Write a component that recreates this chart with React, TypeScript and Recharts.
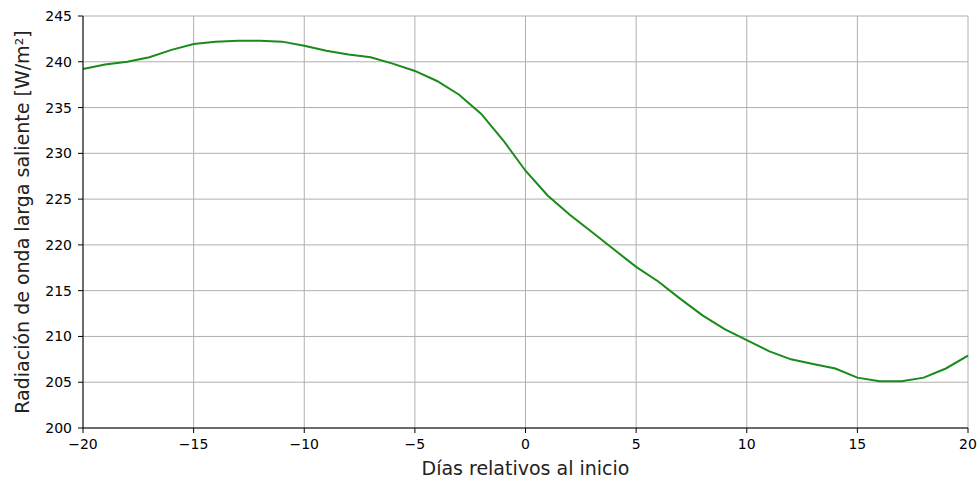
import { CartesianGrid, Label, Line, LineChart, XAxis, YAxis } from "recharts";

// days relative to onset and outgoing longwave radiation (W/m²)
const days = [
  -20, -19, -18, -17, -16, -15, -14, -13, -12, -11, -10, -9, -8, -7, -6, -5, -4, -3, -2, -1,
  0, 1, 2, 3, 4, 5, 6, 7, 8, 9, 10, 11, 12, 13, 14, 15, 16, 17, 18, 19, 20,
];
const olr = [
  239.2, 239.7, 240.0, 240.5, 241.3, 241.95, 242.2, 242.3, 242.3, 242.2, 241.75, 241.2, 240.8, 240.5, 239.8, 239.0, 237.9, 236.4, 234.3, 231.4,
  228.1, 225.4, 223.3, 221.4, 219.5, 217.6, 216.0, 214.1, 212.3, 210.8, 209.6, 208.4, 207.5, 207.0, 206.5, 205.5, 205.1, 205.1, 205.5, 206.5, 207.9,
];
const xTicks = [-20, -15, -10, -5, 0, 5, 10, 15, 20];
const yTicks = [200, 205, 210, 215, 220, 225, 230, 235, 240, 245];

const data = days.map((d, i) => ({ day: d, olr: olr[i] }));

const font = "'DejaVu Sans', sans-serif";
const minus = (v: number) => String(v).replace("-", "\u2212");

export default function App() {
  return (
    <div style={{ position: "absolute", left: 0, top: 0, width: 978, height: 486, background: "#fff", fontFamily: font }}>
      <LineChart width={978} height={486} data={data} margin={{ top: 16, right: 10, bottom: 8, left: 8 }}>
        <CartesianGrid stroke="#b0b0b0" strokeWidth={1} />
        <XAxis
          dataKey="day" type="number" domain={[-20, 20]} ticks={xTicks} tickFormatter={minus}
          height={50} stroke="#000" tickSize={5} tickMargin={6}
          tick={{ fill: "#000", fontSize: 14, fontFamily: font }}
        >
          <Label value="Días relativos al inicio" position="insideBottom" offset={3}
            style={{ fill: "#222", fontSize: 19, fontFamily: font }} />
        </XAxis>
        <XAxis xAxisId="top" orientation="top" dataKey="day" type="number" domain={[-20, 20]}
          height={0} tick={false} tickLine={false} stroke="#000" />
        <YAxis
          domain={[200, 245]} ticks={yTicks} width={75} stroke="#000" tickSize={5} tickMargin={6}
          tick={{ fill: "#000", fontSize: 14, fontFamily: font }}
        >
          <Label value="Radiación de onda larga saliente [W/m²]" angle={-90} position="center" dx={-23}
            style={{ fill: "#222", fontSize: 19, fontFamily: font, textAnchor: "middle" }} />
        </YAxis>
        <YAxis yAxisId="right" orientation="right" domain={[200, 245]} width={0}
          tick={false} tickLine={false} stroke="#000" />
        <Line dataKey="olr" stroke="#1a8a1a" strokeWidth={2} dot={false} isAnimationActive={false} />
      </LineChart>
    </div>
  );
}
